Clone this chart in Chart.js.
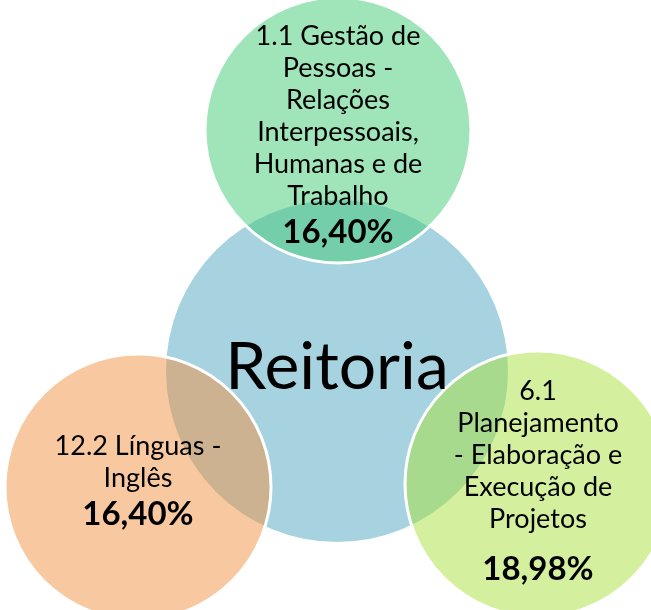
<!DOCTYPE html>
<html>
<head>
<meta charset="utf-8">
<script src="https://cdn.jsdelivr.net/npm/chart.js@4"></script>
<style>
  html, body { margin: 0; padding: 0; background: #fff; }
  canvas { display: block; }
</style>
</head>
<body>
<canvas id="diagram" width="651" height="610"></canvas>
<script>
// data
const centerLabel = 'Reitoria';
const categoryLines = [
  ['1.1 Gestão de', 'Pessoas -', 'Relações', 'Interpessoais,', 'Humanas e de', 'Trabalho'],
  ['12.2 Línguas -', 'Inglês'],
  ['6.1', 'Planejamento', '- Elaboração e', 'Execução de', 'Projetos']
];
const shares = [16.40, 16.40, 18.98];

// layout: circle centres / radii in pixel units of the 651x610 canvas
const layout = {
  hub: { x: 337, y: 371, r: 171 },
  nodes: [
    { x: 338, y: 130, r: 133, firstLine: -85, pctLine: 113 },
    { x: 138, y: 487, r: 133, firstLine: -32, pctLine: 38 },
    { x: 538, y: 484, r: 133, firstLine: -84, pctLine: 96 }
  ],
  lineGap: 32
};

const hubColor = 'rgb(166, 211, 223)';
const nodeColors = ['rgba(65, 201, 115, 0.5)', 'rgba(241, 145, 65, 0.5)', 'rgba(169, 225, 61, 0.5)'];

const fontFamily = 'Lato, "Open Sans", sans-serif';

function formatShare(v) {
  return v.toFixed(2).replace('.', ',') + '%';
}

const bubbleData = [layout.hub].concat(layout.nodes).map(c => ({ x: c.x, y: c.y, r: c.r }));

const labelPlugin = {
  id: 'circleLabels',
  afterDatasetsDraw(chart) {
    const { ctx, scales } = chart;
    const xs = scales.x, ys = scales.y;
    ctx.save();
    ctx.fillStyle = '#000';
    ctx.textAlign = 'center';
    ctx.textBaseline = 'alphabetic';

    ctx.font = '66px ' + fontFamily;
    ctx.fillText(centerLabel, xs.getPixelForValue(layout.hub.x), ys.getPixelForValue(layout.hub.y) + 18);

    layout.nodes.forEach((node, i) => {
      const cx = xs.getPixelForValue(node.x);
      const cy = ys.getPixelForValue(node.y);
      ctx.font = '27px ' + fontFamily;
      categoryLines[i].forEach((line, k) => {
        ctx.fillText(line, cx, cy + node.firstLine + k * layout.lineGap);
      });
      ctx.font = 'bold 33px ' + fontFamily;
      ctx.fillText(formatShare(shares[i]), cx, cy + node.pctLine);
    });
    ctx.restore();
  }
};

const chartConfig = {
  type: 'bubble',
  data: {
    datasets: [{
      data: bubbleData,
      backgroundColor: [hubColor].concat(nodeColors),
      borderColor: '#ffffff',
      borderWidth: [0, 3, 3, 3],
      hoverRadius: 0,
      clip: false
    }]
  },
  options: {
    responsive: false,
    animation: false,
    events: [],
    devicePixelRatio: 1,
    layout: { padding: 0, autoPadding: false },
    scales: {
      x: { type: 'linear', min: 0, max: 651, display: false },
      y: { type: 'linear', min: 0, max: 610, reverse: true, display: false }
    },
    plugins: {
      legend: { display: false },
      tooltip: { enabled: false }
    }
  },
  plugins: [labelPlugin]
};

new Chart(document.getElementById('diagram'), chartConfig);
</script>
</body>
</html>
